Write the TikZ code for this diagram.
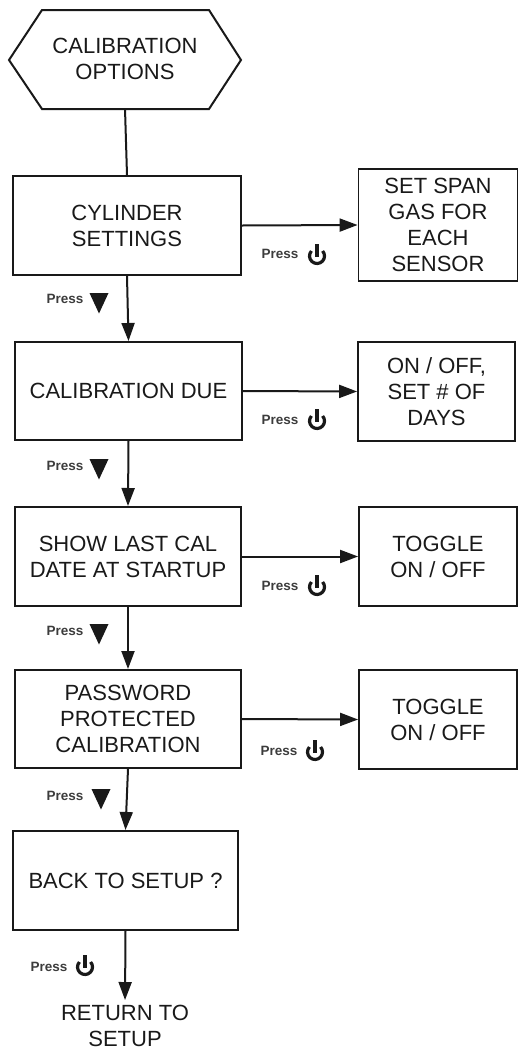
\documentclass[tikz,border=0pt]{standalone}
\usepackage{fontspec}
\setmainfont{Liberation Sans}
\usetikzlibrary{arrows.meta}
\definecolor{ink}{gray}{0.1}
\tikzset{
  flowbox/.style={draw=ink,line width=2pt,align=center,inner sep=0pt,text=ink,
    font=\fontsize{22}{26}\selectfont},
  sidebox/.style={flowbox,line width=1.8pt},
  plain/.style={align=center,inner sep=0pt,text=ink,font=\fontsize{22}{26}\selectfont},
  presslabel/.style={inner sep=0pt,text=ink!85,font=\fontsize{13.5}{15}\selectfont\bfseries},
  conn/.style={draw=ink,line width=2pt},
  arrowconn/.style={conn,-{Triangle[length=18pt,width=13pt]}},
  powericon/.pic={
    \draw[ink,line width=3.2pt] (-5.57,-5.02) arc[start angle=222,delta angle=-264,radius=7.5];
    \draw[ink,line width=3.2pt] (0,-12) -- (0,1);
  },
  downicon/.pic={
    \fill[ink] (-9.5,-10) -- (9.5,-10) -- (0,10.5) -- cycle;
  }
}
\begin{document}
\begin{tikzpicture}[x=1pt,y=-1pt]
\useasboundingbox (0,0) rectangle (517,1050);
% start hexagon
\draw[ink,line width=2pt] (9,60) -- (42,10) -- (209,10) -- (241,60) -- (209,109) -- (42,109) -- cycle;
\node[plain,minimum width=232pt,minimum height=99pt] (hex) at (125,59) {CALIBRATION\\OPTIONS};
% main column
\node[flowbox,minimum width=228pt,minimum height=99pt] (cyl) at (127,225.5) {CYLINDER\\SETTINGS};
\node[flowbox,minimum width=227pt,minimum height=98pt] (due) at (128.5,391) {CALIBRATION DUE};
\node[flowbox,minimum width=226pt,minimum height=99pt] (last) at (128,556.5) {SHOW LAST CAL\\DATE AT STARTUP};
\node[flowbox,minimum width=226pt,minimum height=98pt] (pwd) at (128,719) {PASSWORD\\PROTECTED\\CALIBRATION};
\node[flowbox,minimum width=225pt,minimum height=99pt] (back) at (125.5,880.5) {BACK TO SETUP ?};
\node[plain] (ret) at (125,1026) {RETURN TO\\SETUP};
% side column
\node[sidebox,minimum width=159pt,minimum height=112pt] (span) at (438,225) {SET SPAN\\GAS FOR\\EACH\\SENSOR};
\node[sidebox,minimum width=157pt,minimum height=99pt] (days) at (436.5,391.5) {ON / OFF,\\SET \# OF\\DAYS};
\node[sidebox,minimum width=158pt,minimum height=99pt] (tog1) at (438,556.5) {TOGGLE\\ON / OFF};
\node[sidebox,minimum width=158pt,minimum height=99pt] (tog2) at (438,719.5) {TOGGLE\\ON / OFF};
% connectors
\draw[conn] (hex.south) -- (cyl.north);
\draw[arrowconn] (cyl.south) -- (due.north);
\draw[arrowconn] (due.south) -- (last.north);
\draw[arrowconn] (last.south) -- (pwd.north);
\draw[arrowconn] (pwd.south) -- (back.north);
\draw[arrowconn,shorten >=5pt] (back.south) -- (ret.north);
\draw[arrowconn] (cyl.east) -- (span.west);
\draw[arrowconn] (due.east) -- (days.west);
\draw[arrowconn] (last.east) -- (tog1.west);
\draw[arrowconn] (pwd.east) -- (tog2.west);
% press labels
\node[presslabel] (p1) at (280,254) {Press}; \pic at (317,256) {powericon};
\node[presslabel] (p2) at (280,420) {Press}; \pic at (317,421) {powericon};
\node[presslabel] (p3) at (280,586) {Press}; \pic at (317,587) {powericon};
\node[presslabel] (p4) at (279,751) {Press}; \pic at (315,752) {powericon};
\node[presslabel] (p5) at (49,967) {Press}; \pic at (85,967) {powericon};
\node[presslabel] (d1) at (65,299) {Press}; \pic at (99,303) {downicon};
\node[presslabel] (d2) at (65,466) {Press}; \pic at (99,469) {downicon};
\node[presslabel] (d3) at (65,631) {Press}; \pic at (99,634) {downicon};
\node[presslabel] (d4) at (65,796) {Press}; \pic at (101,799) {downicon};
\end{tikzpicture}
\end{document}
